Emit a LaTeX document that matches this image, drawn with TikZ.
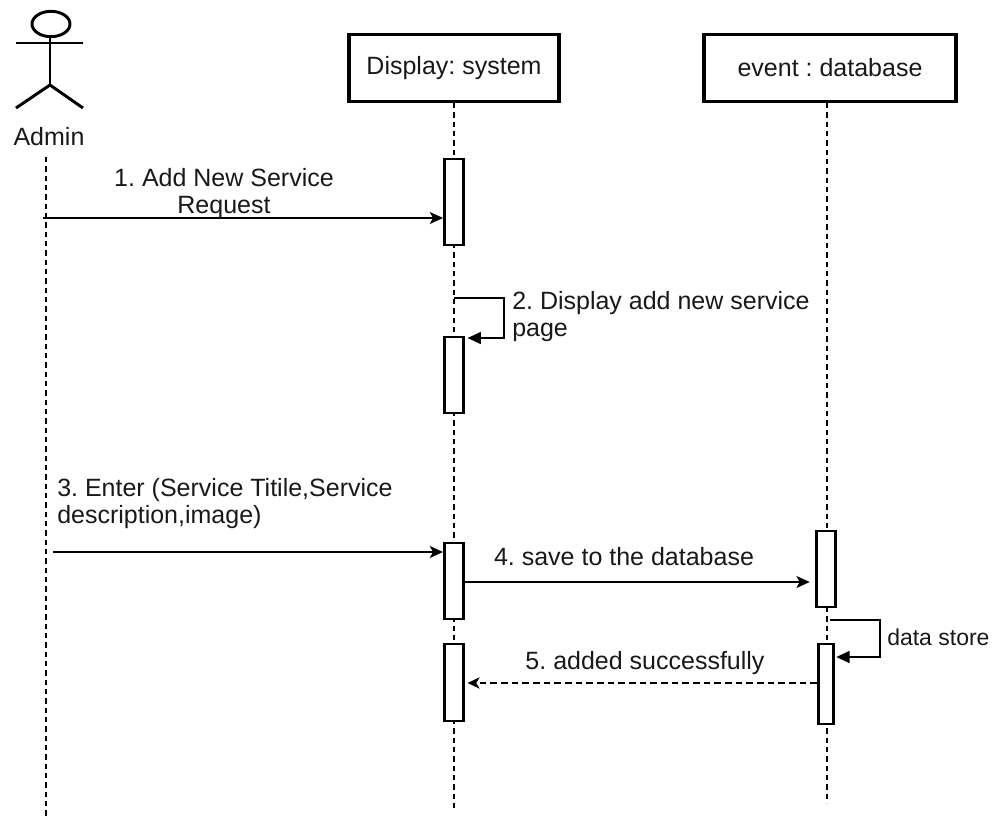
\documentclass[tikz,border=0pt]{standalone}
\usepackage{fontspec}
\setmainfont{Liberation Sans}
\usetikzlibrary{positioning}
\usetikzlibrary{arrows.meta}
\frenchspacing

\begin{document}
\begin{tikzpicture}[x=0.75pt,y=-0.75pt,
		txt/.style={font=\fontsize{18.75}{20.25}\selectfont,inner sep=0pt,text=black!90},
		obj/.style={draw,line width=2.4pt,minimum height=50pt,inner sep=0pt,font=\fontsize{18.75}{20.25}\selectfont,text=black!90},
		act/.style={draw,line width=1.9pt,fill=white,minimum width=14.5pt,inner sep=0pt},
		life/.style={line width=0.9pt,dash pattern=on 4pt off 3pt},
		msg/.style={line width=1.2pt,-{Stealth[length=10pt,width=9pt,inset=2.5pt]}},
		ret/.style={line width=1.1pt,dash pattern=on 5pt off 3pt,-{Stealth[length=9pt,width=8.5pt,inset=2.5pt]}},
		selfmsg/.style={line width=1.1pt,-{Triangle[length=10pt,width=9pt]}}]
				\useasboundingbox (0,0) rectangle (1000,820);

				%Nodes
				\node[obj,minimum width=157.5pt] (sys) at (454,68) {Display: system};
				\node[obj,minimum width=189pt] (db) at (830,68) {event : database};
				\node[txt] (admin) at (49,137) {Admin};

				\coordinate      (head)	at	(51,24);
				\coordinate      (neck)	at	(50,37);
				\coordinate      (hip)	at	(50,85);
				\coordinate      (armL)	at	(16,43);
				\coordinate      (armR)	at	(83,43);
				\coordinate      (legL)	at	(16,108);
				\coordinate      (legR)	at	(83,108);

				\coordinate      (adminTop)	at	(46,157);
				\coordinate      (adminEnd)	at	(46,820);
				\coordinate      (sysEnd)	at	(454,812);
				\coordinate      (dbTop)	at	(827,103);
				\coordinate      (dbEnd)	at	(827,803);

				\coordinate      (m1)	at	(43,218);
				\coordinate      (s2a)	at	(454,298);
				\coordinate      (s2b)	at	(504,298);
				\coordinate      (s2c)	at	(504,338);
				\coordinate      (m3)	at	(53,552);
				\coordinate      (m4)	at	(465,582);
				\coordinate      (s6a)	at	(830,620);
				\coordinate      (s6b)	at	(880,620);
				\coordinate      (s6c)	at	(880,657);
				\coordinate      (m5)	at	(817,683);

				%Actor
				\draw[line width=2.2pt] (head) ellipse [x radius=14.25pt,y radius=9.5pt];
				\draw[line width=2.2pt] (armL) -- (armR);
				\draw[line width=2.2pt] (neck) -- (hip);
				\draw[line width=2.2pt] (legL) -- (hip) -- (legR);

				%Lifelines
				\draw[life] (adminTop) -- (adminEnd);
				\draw[life] (sys.south) -- (sysEnd);
				\draw[life] (dbTop) -- (dbEnd);

				%Activations
				\node[act,minimum height=64.5pt] (a1) at (454,202) {};
				\node[act,minimum height=57pt] (a2) at (454,375) {};
				\node[act,minimum height=57pt] (a3) at (454,581) {};
				\node[act,minimum height=57.75pt] (a4) at (454,682.5) {};
				\node[act,minimum height=57pt] (b1) at (826,569) {};
				\node[act,minimum height=60pt,minimum width=11.6pt] (b2) at (826,684) {};

				%Messages
				\draw[msg] (m1) -- (a1.west |- m1);
				\node[txt,align=center] (l1) at (224,193.5) {1. Add New Service\\Request};

				\draw[selfmsg,shorten >=2pt] (s2a) -- (s2b) -- (s2c) -- (a2.east |- s2c);
				\node[txt,align=left,anchor=west] (l2) at (512,316.5) {2. Display add new service\\page};

				\draw[msg] (m3) -- (a3.west |- m3);
				\node[txt,align=left,anchor=west] (l3) at (57,503.5) {3. Enter (Service Titile,Service\\description,image)};

				\draw[msg,shorten >=4pt] (m4) -- (b1.west |- m4);
				\node[txt] (l4) at (624,557) {4. save to the database};

				\draw[selfmsg,shorten >=1pt] (s6a) -- (s6b) -- (s6c) -- (b2.east |- s6c);
				\node[txt,anchor=west,font=\fontsize{17.25}{19}\selectfont] (l6) at (887,637) {data store};

				\draw[ret,shorten >=2pt] (m5) -- (a4.east |- m5);
				\node[txt] (l5) at (645,663) {5. added successfully};

\end{tikzpicture}
\end{document}
